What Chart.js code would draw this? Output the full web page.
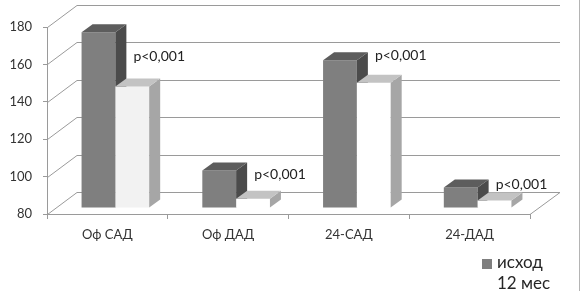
<!DOCTYPE html>
<html>
<head>
<meta charset="utf-8">
<script src="https://cdn.jsdelivr.net/npm/chart.js@4.4.1/dist/chart.umd.min.js"></script>
<style>
  html, body { margin: 0; padding: 0; background: #fff; }
  #wrap { position: relative; width: 583px; height: 291px; font-family: Lato, "Open Sans", sans-serif; }
  #chart { position: absolute; left: 0; top: 0; }
  .leg-item { position: absolute; left: 482px; height: 20px; line-height: 20px; font-size: 17px; color: #262626; white-space: nowrap; }
  .leg-box { display: inline-block; width: 10px; height: 10px; margin-right: 5px; vertical-align: -1px; }
</style>
</head>
<body>
<div id="wrap">
  <canvas id="chart" width="583" height="291"></canvas>
  <div id="legend"></div>
</div>
<script>
const categories = ["Оф САД", "Оф ДАД", "24-САД", "24-ДАД"];
const seriesNames = ["исход", "12 мес"];
const baseline = [174, 100, 159, 91];
const month12 = [145, 85, 147, 84];
const yTicks = [80, 100, 120, 140, 160, 180];
const pLabels = ["p<0,001", "p<0,001", "p<0,001", "p<0,001"];
const pLabelLevel = [164, 101, 165, 96];

// 3d look
const GRID = "#9a9a9a";
const WALL = { dx: 30, dy: -22 };   // back wall offset from front plane
const SHIFT = { dx: 8, dy: -6 };    // bars stand a bit behind the front plane
const BAR = { dx: 11, dy: -8 };     // bar depth

const faces = [
  { front: "#7f7f7f", side: "#4b4b4b", top: "#5d5d5d" },
  { front: ["#f2f2f2", "#ffffff", "#ffffff", "#ffffff"], side: "#a6a6a6", top: "#c3c3c3" }
];

const depth3d = {
  id: "depth3d",
  beforeDatasetsDraw(chart) {
    const { ctx, chartArea: a, scales: { y } } = chart;
    ctx.save();
    ctx.strokeStyle = GRID;
    ctx.lineWidth = 1;
    ctx.beginPath();
    yTicks.forEach(v => {
      const py = Math.round(y.getPixelForValue(v)) + 0.5;
      ctx.moveTo(a.left + 0.5, py);
      ctx.lineTo(a.left + WALL.dx, py + WALL.dy);
      ctx.lineTo(a.right + WALL.dx, py + WALL.dy);
    });
    const fy = Math.round(y.getPixelForValue(yTicks[0])) + 0.5;
    ctx.moveTo(a.right, fy);
    ctx.lineTo(a.right + WALL.dx, fy + WALL.dy);
    ctx.stroke();
    ctx.restore();
  },
  // bars are drawn below, category by category, so the faces overlap right
  beforeDatasetDraw() {
    return false;
  },
  afterDatasetsDraw(chart) {
    const { ctx, chartArea: a, scales: { x, y } } = chart;
    const metas = [chart.getDatasetMeta(0), chart.getDatasetMeta(1)];

    ctx.save();
    ctx.translate(SHIFT.dx, SHIFT.dy);
    categories.forEach((c, i) => {
      metas.forEach((meta, d) => {
        const bar = meta.data[i];
        const f = faces[d];
        bar.draw(ctx, a);
        const { x: bx, y: by, base, width } = bar.getProps(["x", "y", "base", "width"], true);
        const l = bx - width / 2, r = bx + width / 2;
        ctx.fillStyle = f.side;
        ctx.beginPath();
        ctx.moveTo(r, by);
        ctx.lineTo(r + BAR.dx, by + BAR.dy);
        ctx.lineTo(r + BAR.dx, base + BAR.dy);
        ctx.lineTo(r, base);
        ctx.closePath();
        ctx.fill();
        ctx.fillStyle = f.top;
        ctx.beginPath();
        ctx.moveTo(l, by);
        ctx.lineTo(l + BAR.dx, by + BAR.dy);
        ctx.lineTo(r + BAR.dx, by + BAR.dy);
        ctx.lineTo(r, by);
        ctx.closePath();
        ctx.fill();
      });
    });
    ctx.restore();

    // p-values
    ctx.save();
    ctx.font = "14px Lato";
    ctx.fillStyle = "#222";
    ctx.textBaseline = "middle";
    pLabels.forEach((t, i) => {
      ctx.fillText(t, x.getPixelForValue(i) + 26, y.getPixelForValue(pLabelLevel[i]));
    });
    ctx.restore();
  },
  afterDraw(chart) {
    const ctx = chart.ctx;
    ctx.save();
    ctx.strokeStyle = "#b4b4b4";
    ctx.beginPath();
    ctx.moveTo(579.5, 0);
    ctx.lineTo(579.5, 291);
    ctx.stroke();
    ctx.restore();
  }
};

Chart.defaults.font.family = "Lato";

new Chart(document.getElementById("chart"), {
  type: "bar",
  data: {
    labels: categories,
    datasets: [
      { label: seriesNames[0], data: baseline, backgroundColor: faces[0].front, base: yTicks[0] },
      { label: seriesNames[1], data: month12, backgroundColor: faces[1].front, base: yTicks[0] }
    ]
  },
  options: {
    responsive: false,
    animation: false,
    devicePixelRatio: 1,
    layout: { padding: { top: 27, right: 53, left: 0, bottom: 0 } },
    datasets: { bar: { categoryPercentage: 0.56, barPercentage: 1, borderWidth: 0 } },
    plugins: { legend: { display: false }, tooltip: { enabled: false } },
    scales: {
      x: {
        offset: true,
        grid: { offset: true, drawOnChartArea: false, tickLength: 5, color: GRID },
        border: { color: GRID },
        ticks: { color: "#333", font: { size: 13 }, padding: 8 },
        afterFit: s => { s.height = 77; }
      },
      y: {
        min: 80,
        max: 180,
        afterBuildTicks: s => { s.ticks = yTicks.map(v => ({ value: v })); },
        grid: { drawOnChartArea: false, tickLength: 4, color: GRID },
        border: { color: GRID },
        ticks: { color: "#333", font: { size: 13 }, padding: 11 },
        afterFit: s => { s.width = 47; }
      }
    }
  },
  plugins: [depth3d]
});

// legend
const legend = document.getElementById("legend");
seriesNames.forEach((name, i) => {
  const item = document.createElement("div");
  item.className = "leg-item";
  item.style.top = (252 + i * 21) + "px";
  const box = document.createElement("span");
  box.className = "leg-box";
  box.style.background = i === 0 ? faces[0].front : "#ffffff";
  item.appendChild(box);
  item.appendChild(document.createTextNode(name));
  legend.appendChild(item);
});
</script>
</body>
</html>
